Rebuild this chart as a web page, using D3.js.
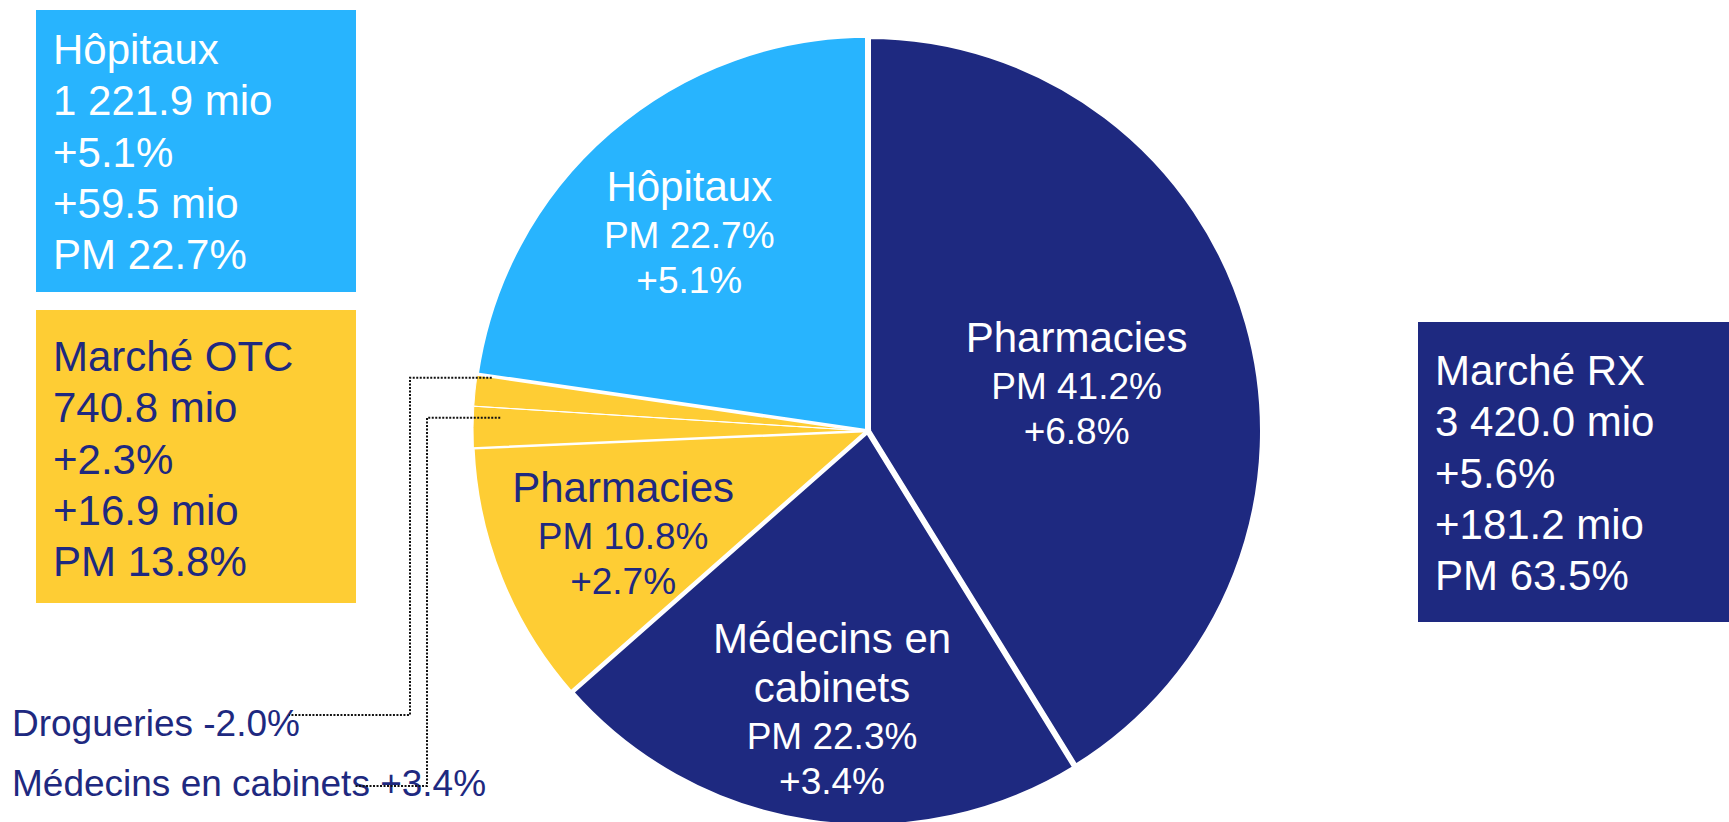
<!DOCTYPE html>
<html>
<head>
<meta charset="utf-8">
<script src="https://cdn.jsdelivr.net/npm/d3@7"></script>
<style>
body{margin:0;background:#fff;}
svg{display:block;font-family:"Liberation Sans",Arial,sans-serif;}
</style>
</head>
<body>
<div id="myGraph"></div>
<script>
// segments du camembert, sens horaire depuis midi
var segNames  = ["Pharmacies", "Médecins en cabinets", "Pharmacies", "Médecins en cabinets", "Drogueries", "Hôpitaux"];
var segMarket = ["RX", "RX", "OTC", "OTC", "OTC", "HOP"];
var segShare  = [41.2, 22.3, 10.8, 1.7, 1.3, 22.7];
var segGrowth = [6.8, 3.4, 2.7, 3.4, -2.0, 5.1];

// encadrés des marchés
var boxMarket    = ["HOP", "OTC", "RX"];
var boxTitles    = ["Hôpitaux", "Marché OTC", "Marché RX"];
var boxSales     = [1221.9, 740.8, 3420.0];
var boxGrowth    = [5.1, 2.3, 5.6];
var boxGrowthMio = [59.5, 16.9, 181.2];
var boxShare     = [22.7, 13.8, 63.5];

chart();

function chart(){
	var width = 1729, height = 822;
	var cx = 868, cy = 431, radius = 395;

	var fill = {RX: "#1E2980", OTC: "#FECD34", HOP: "#28B4FE"};
	var ink  = {RX: "#FFFFFF", OTC: "#1E2980", HOP: "#FFFFFF"};

	var loc = d3.formatLocale({decimal: ".", thousands: " ", grouping: [3], currency: ["", ""], minus: "-"});
	var fmtMio = loc.format(",.1f");
	var fmtSgn = loc.format("+.1f");
	function pct(v){ return fmtSgn(v) + "%"; }

	var data = segNames.map(function(n, i){
		return {name: n, market: segMarket[i], share: segShare[i], growth: segGrowth[i]};
	});

	var svg = d3.select("#myGraph").append("svg")
		.attr("width", width)
		.attr("height", height);

	// encadrés
	var boxLayout = [
		{x: 36,   y: 10,  w: 320, h: 282, base: 64},
		{x: 36,   y: 310, w: 320, h: 293, base: 371},
		{x: 1418, y: 322, w: 311, h: 300, base: 385}
	];
	boxTitles.forEach(function(t, i){
		var b = boxLayout[i], m = boxMarket[i];
		svg.append("rect")
			.attr("x", b.x).attr("y", b.y)
			.attr("width", b.w).attr("height", b.h)
			.attr("fill", fill[m]);
		var lines = [t, fmtMio(boxSales[i]) + " mio", pct(boxGrowth[i]),
			fmtSgn(boxGrowthMio[i]) + " mio", "PM " + boxShare[i].toFixed(1) + "%"];
		var txt = svg.append("text")
			.attr("fill", ink[m])
			.style("font-size", "42px");
		lines.forEach(function(l, k){
			txt.append("tspan")
				.attr("x", b.x + 17)
				.attr("y", b.base + k * 51.3)
				.text(l);
		});
	});

	var pie = d3.pie()
		.sort(null)
		.value(function(d){ return d.share; });

	var arc = d3.arc()
		.outerRadius(radius)
		.innerRadius(0);

	var arcs = pie(data);

	var g = svg.append("g")
		.attr("transform", "translate(" + cx + "," + cy + ")");

	g.selectAll(".slice")
		.data(arcs)
		.enter().append("path")
		.attr("class", "slice")
		.attr("d", arc)
		.attr("fill", function(d){ return fill[d.data.market]; });

	// bordures blanches (plus épaisses autour des segments RX)
	var borderW = [6, 4.5, 2.5, 1, 1, 3.5];
	g.selectAll(".edge")
		.data(arcs)
		.enter().append("path")
		.attr("class", "edge")
		.attr("d", arc)
		.attr("fill", "none")
		.attr("stroke", "#fff")
		.attr("stroke-linejoin", "miter")
		.attr("stroke-width", function(d, i){ return borderW[i]; });

	// étiquettes dans le camembert : [angle en degrés, rayon] de la première ligne
	var labelPos = {0: [69.3, 223], 1: [189.2, 225], 2: [253.8, 255], 5: [322.1, 291]};
	arcs.forEach(function(d, i){
		if (!labelPos[i]) return;
		var p = d3.pointRadial(labelPos[i][0] * Math.PI / 180, labelPos[i][1]);
		var words = d.data.name.split(" ");
		var nameLines = words.length > 2
			? [words.slice(0, 2).join(" "), words.slice(2).join(" ")]
			: [d.data.name];
		var txt = g.append("text")
			.attr("text-anchor", "middle")
			.attr("fill", ink[d.data.market]);
		var y = p[1];
		nameLines.forEach(function(l, k){
			if (k > 0) y += 49;
			txt.append("tspan").attr("x", p[0]).attr("y", y)
				.style("font-size", "42px").text(l);
		});
		y += 47;
		txt.append("tspan").attr("x", p[0]).attr("y", y)
			.style("font-size", "37px").text("PM " + d.data.share.toFixed(1) + "%");
		y += 45;
		txt.append("tspan").attr("x", p[0]).attr("y", y)
			.style("font-size", "37px").text(pct(d.data.growth));
	});

	// petits segments OTC : lignes de rappel pointillées
	var leaders = {
		4: {t: 0.95, r: 380, elbow: 410, lineY: 715, endX: 289, textY: 736},
		3: {t: 0.75, r: 368, elbow: 427, lineY: 786, endX: 354, textY: 796}
	};
	arcs.forEach(function(d, i){
		var L = leaders[i];
		if (!L) return;
		var a = d.startAngle + L.t * (d.endAngle - d.startAngle);
		var p = d3.pointRadial(a, L.r);
		var ax = cx + p[0], ay = cy + p[1];
		svg.append("text")
			.attr("x", 12).attr("y", L.textY)
			.attr("fill", "#1E2980")
			.style("font-size", "37px")
			.text(d.data.name + " " + pct(d.data.growth));
		svg.append("path")
			.attr("d", "M" + ax + "," + ay + "H" + L.elbow + "V" + L.lineY + "H" + L.endX)
			.attr("fill", "none")
			.attr("stroke", "#111")
			.attr("stroke-width", 2)
			.attr("stroke-dasharray", "2,1.5");
	});
}
</script>
</body>
</html>
